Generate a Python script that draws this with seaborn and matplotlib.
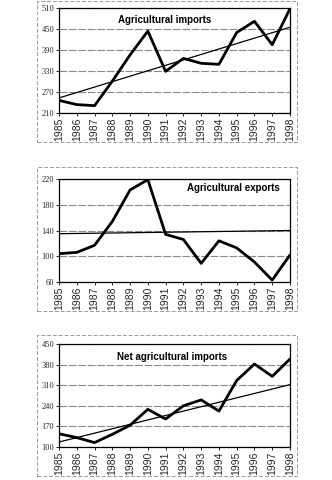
import matplotlib
matplotlib.use("Agg")
import matplotlib.pyplot as plt
import seaborn as sns
import pandas as pd
from matplotlib.patches import Rectangle

years = [1985, 1986, 1987, 1988, 1989, 1990, 1991, 1992, 1993, 1994, 1995, 1996, 1997, 1998]
imports = [246, 234, 231, 301, 376, 444, 329, 366, 352, 349, 440, 472, 405, 508]
exports = [104, 106, 117, 154, 203, 219, 134, 126, 89, 124, 113, 91, 63, 102]
net_imports = [145, 132, 115, 143, 174, 228, 195, 240, 260, 222, 326, 382, 340, 399]

trend_years = [1985, 1998]
imports_trend = [253, 455]
exports_trend = [135, 140]
net_trend = [117, 312]

titles = ["Agricultural imports", "Agricultural exports", "Net agricultural imports"]
yticks_list = [[210, 270, 330, 390, 450, 510],
               [60, 100, 140, 180, 220],
               [100, 170, 240, 310, 380, 450]]

sns.set_theme(style="white")
plt.rcParams['font.family'] = ['Liberation Sans', 'DejaVu Sans']

W, H = 332, 480
fig = plt.figure(figsize=(W / 100, H / 100), dpi=100)

# axes boxes in pixels: (left, top, right, bottom)
ax_px = [(59, 8, 290, 113), (59, 179, 290, 282), (59, 344, 290, 447)]
outer_px = [(37, 1, 297, 142), (37, 167, 297, 311), (37, 335, 297, 476)]
title_pos = [(165, 20, "center"), (280, 188, "right"), (172, 357, "center")]

series = [imports, exports, net_imports]
trends = [imports_trend, exports_trend, net_trend]

for i in range(3):
    l, t, r, b = ax_px[i]
    ax = fig.add_axes([l / W, 1 - b / H, (r - l) / W, (b - t) / H])
    df = pd.DataFrame({"year": years, "value": series[i]})
    tdf = pd.DataFrame({"year": trend_years, "value": trends[i]})
    yt = yticks_list[i]
    for v in yt:
        ax.axhline(v, color="#8a8a8a", lw=0.8, ls=(0, (7, 1.5)), zorder=0)
    sns.lineplot(data=tdf, x="year", y="value", ax=ax, color="black", lw=0.9)
    sns.lineplot(data=df, x="year", y="value", ax=ax, color="black", lw=2.0)
    ax.set_xlim(1985, 1998)
    ax.set_ylim(yt[0], yt[-1])
    ax.set_yticks(yt)
    ax.set_yticklabels([str(v) for v in yt], family=['Liberation Serif'], fontsize=6)
    ax.set_xticks(years)
    ax.set_xticklabels([str(y) for y in years], rotation=90, fontsize=7.5)
    ax.set_xlabel("")
    ax.set_ylabel("")
    ax.tick_params(axis="both", which="both", length=2, width=0.6, color="black", pad=1.5,
                   direction="out", left=True, bottom=True)
    for s in ax.spines.values():
        s.set_color("black")
        s.set_linewidth(0.9)
    ax.grid(False)

    ol, ot, orr, ob = outer_px[i]
    fig.patches.append(Rectangle((ol / W, 1 - ob / H), (orr - ol) / W, (ob - ot) / H,
                                 transform=fig.transFigure, fill=False,
                                 edgecolor="#9a9a9a", lw=0.7, ls=(0, (4, 2))))
    tx, ty, ha = title_pos[i]
    fig.text(tx / W, 1 - ty / H, titles[i], ha=ha, va="center", fontsize=7,
             fontweight="bold", color="black")

fig.savefig("out.png", dpi=100)
